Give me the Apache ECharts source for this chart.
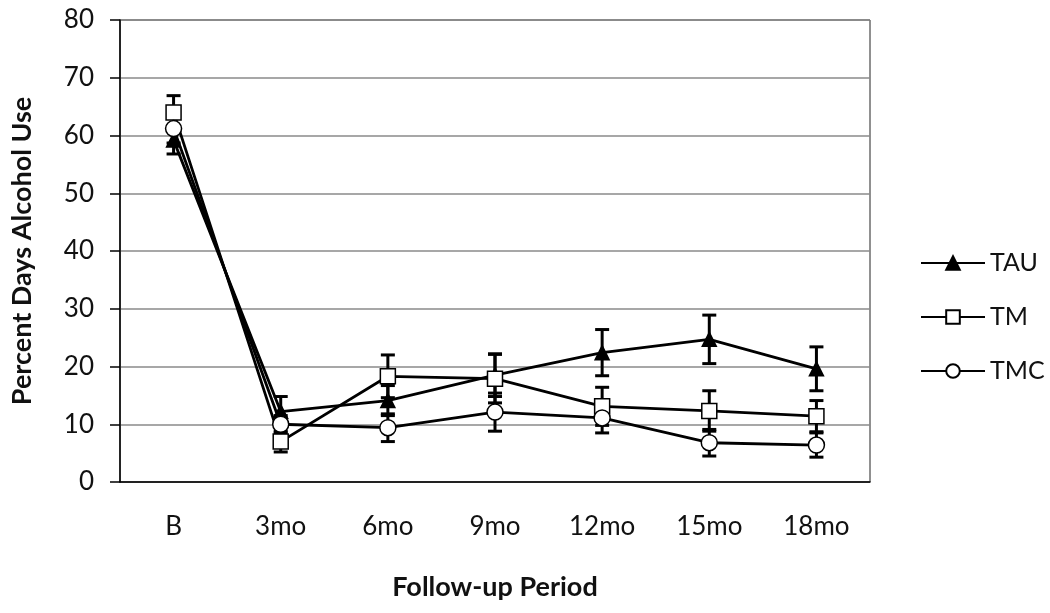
<!DOCTYPE html>
<html>
<head>
<meta charset="utf-8">
<script src="https://cdn.jsdelivr.net/npm/echarts@6/dist/echarts.min.js"></script>
<style>
  html, body { margin: 0; padding: 0; background: #fff; }
  #chart { width: 1050px; height: 613px; }
</style>
</head>
<body>
<div id="chart"></div>
<script>
const categories = ['B', '3mo', '6mo', '9mo', '12mo', '15mo', '18mo'];
const tauMean = [59.2, 12.2, 14.1, 18.5, 22.4, 24.7, 19.6];
const tauErr  = [2.4, 2.6, 2.6, 3.7, 4.0, 4.2, 3.8];
const tmMean  = [64.0, 7.0, 18.3, 17.9, 13.1, 12.3, 11.4];
const tmErr   = [2.9, 1.8, 3.7, 4.2, 3.3, 3.5, 2.7];
const tmcMean = [61.2, 10.0, 9.4, 12.1, 11.1, 6.8, 6.4];
const tmcErr  = [2.5, 1.5, 2.4, 3.3, 2.6, 2.3, 2.1];
const yTicks = { min: 0, max: 80, interval: 10 };

const font = 'Lato, "Open Sans", sans-serif';
const chart = echarts.init(document.getElementById('chart'));

// error bars drawn under the markers
function errorSeries(name, mean, err) {
  return {
    name: name + ' err',
    type: 'custom',
    z: 1,
    silent: true,
    data: mean.map((m, i) => [i, m - err[i], m + err[i]]),
    renderItem: function (params, api) {
      const lo = api.coord([api.value(0), api.value(1)]);
      const hi = api.coord([api.value(0), api.value(2)]);
      const w = 7;
      const style = { stroke: '#000', lineWidth: 3 };
      return {
        type: 'group',
        children: [
          { type: 'line', shape: { x1: hi[0], y1: hi[1], x2: lo[0], y2: lo[1] }, style: style },
          { type: 'line', shape: { x1: hi[0] - w, y1: hi[1], x2: hi[0] + w, y2: hi[1] }, style: style },
          { type: 'line', shape: { x1: lo[0] - w, y1: lo[1], x2: lo[0] + w, y2: lo[1] }, style: style }
        ]
      };
    }
  };
}

function lineSeries(name, mean, symbol, size, fill) {
  return {
    name: name,
    type: 'line',
    z: 3,
    data: mean,
    symbol: symbol,
    symbolSize: size,
    showAllSymbol: true,
    lineStyle: { color: '#000', width: 2.8 },
    itemStyle: { color: fill, borderColor: '#000', borderWidth: 1.5 },
    emphasis: { disabled: true }
  };
}

const option = {
  animation: false,
  textStyle: { fontFamily: font },
  grid: {
    left: 120, right: 180, top: 20, bottom: 131,
    show: true, borderColor: '#222', borderWidth: 1, backgroundColor: '#fff'
  },
  legend: {
    orient: 'vertical',
    left: 915,
    top: 243,
    itemWidth: 64,
    itemHeight: 17,
    itemGap: 24,
    data: ['TAU', 'TM', 'TMC'],
    textStyle: { fontSize: 25, color: '#111', fontFamily: font, lineHeight: 30 }
  },
  xAxis: {
    type: 'category',
    data: categories,
    boundaryGap: true,
    name: 'Follow-up Period',
    nameLocation: 'middle',
    nameGap: 92,
    nameTextStyle: { fontSize: 27, fontWeight: 'bold', color: '#111', fontFamily: font },
    axisLine: { lineStyle: { color: '#000', width: 1.5 } },
    axisTick: { interval: 2, length: 13, lineStyle: { color: '#000', width: 1.5 } },
    axisLabel: { fontSize: 26, color: '#111', margin: 32, interval: 0 },
    splitLine: { show: false }
  },
  yAxis: {
    type: 'value',
    min: yTicks.min,
    max: yTicks.max,
    interval: yTicks.interval,
    name: 'Percent Days Alcohol Use',
    nameLocation: 'middle',
    nameGap: 84,
    nameTextStyle: { fontSize: 27, fontWeight: 'bold', color: '#111', fontFamily: font },
    axisLine: { show: true, lineStyle: { color: '#000', width: 1.5 } },
    axisTick: { show: true, length: 10, lineStyle: { color: '#000', width: 1.5 } },
    axisLabel: { fontSize: 26, color: '#111', margin: 26 },
    splitLine: { lineStyle: { color: '#8a8a8a', width: 1.5 } }
  },
  series: [
    errorSeries('TAU', tauMean, tauErr),
    errorSeries('TM', tmMean, tmErr),
    errorSeries('TMC', tmcMean, tmcErr),
    lineSeries('TAU', tauMean, 'triangle', 14, '#000'),
    lineSeries('TM', tmMean, 'rect', 15, '#fff'),
    lineSeries('TMC', tmcMean, 'circle', 16, '#fff')
  ]
};
chart.setOption(option);
</script>
</body>
</html>
